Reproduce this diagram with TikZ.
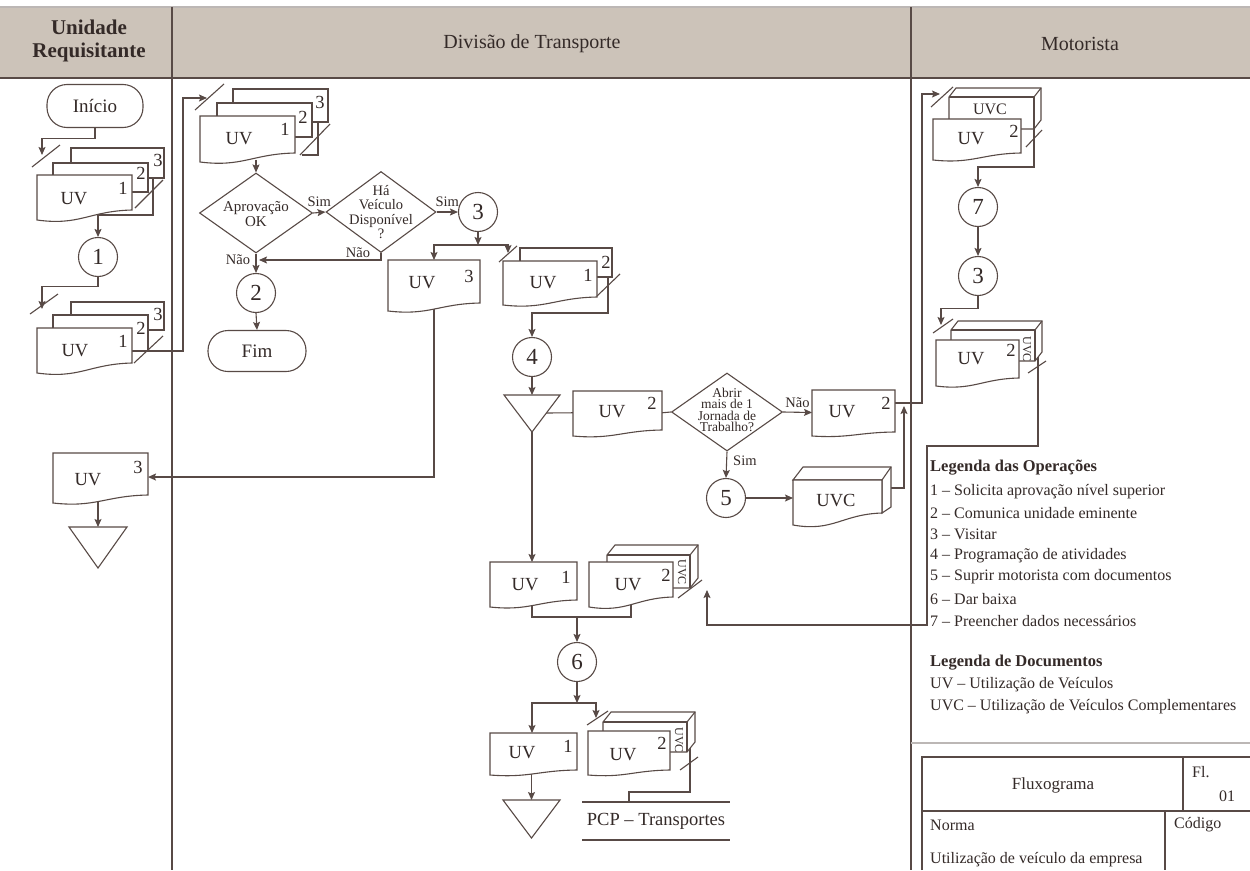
\documentclass[tikz,border=0pt]{standalone}
\usepackage{fontspec}
\setmainfont{Liberation Serif}
\usetikzlibrary{arrows.meta,shapes.geometric,calc}
\pgfdeclarelayer{wires}
\pgfsetlayers{wires,main}

\definecolor{inkline}{RGB}{88,74,70}
\definecolor{inktext}{RGB}{52,42,40}
\definecolor{headfill}{RGB}{204,195,185}

\tikzset{
  ln/.style={draw=inkline, line width=1.1pt},
  arr/.style={ln, -{Stealth[length=8pt,width=7pt,inset=1.5pt]}},
  tx/.style={text=inktext, inner sep=0pt, font=\fontsize{18.5}{20}\selectfont},
  lab/.style={tx, font=\fontsize{14.5}{15}\selectfont},
  vlab/.style={tx, rotate=-90, font=\fontsize{12}{12}\selectfont},
  circ/.style={circle, ln, fill=white, minimum size=39pt, inner sep=0pt, text=inktext, font=\fontsize{23}{24}\selectfont},
  term/.style={rectangle, rounded corners=20pt, ln, fill=white, inner sep=0pt, text=inktext, font=\fontsize{19}{20}\selectfont},
  decision/.style={diamond, ln, fill=white, inner sep=0pt},
  legend/.style={tx, anchor=west, font=\fontsize{16}{18}\selectfont},
  legendhead/.style={legend, font=\bfseries\fontsize{16.5}{18}\selectfont},
  head/.style={tx, font=\fontsize{20}{22}\selectfont, align=center},
}

% document sheet with a wavy lower edge: name, x1, y1, x2, y2 (right bottom), drop
\newcommand\flowdoc[6]{%
  \draw[ln, fill=white] (#2,#3) -- (#4,#3) -- (#4,#5)
    .. controls ({#4-0.45*(#4-#2)},{#5+0.1*#6}) and ({#2+0.45*(#4-#2)},{#5+1.6*#6}) .. (#2,{#5+#6}) -- cycle;
  \node[inner sep=0pt, outer sep=0pt, minimum width={#4-#2}, minimum height={#5+0.76*#6-#3}]
    (#1) at ({(#2+#4)/2},{(#3+#5+0.76*#6)/2}) {};
}
% plain copy lying behind a document: name, x1, y1, x2, y2
\newcommand\flowsheet[5]{%
  \node[rectangle, ln, fill=white, inner sep=0pt, outer sep=0pt, minimum width={#4-#2}, minimum height={#5-#3}]
    (#1) at ({(#2+#4)/2},{(#3+#5)/2}) {};
}
% card file drawn as a box: name, x1, y1, x2, y2, depth x, depth y
\newcommand\flowcard[7]{%
  \draw[ln, fill=white] (#2,#3) -- ({#2+#6},{#3-#7}) -- ({#4+#6},{#3-#7}) -- ({#4+#6},{#5-#7}) -- (#4,#5) -- (#2,#5) -- cycle;
  \draw[ln] (#2,#3) -- (#4,#3) -- (#4,#5);
  \draw[ln] (#4,#3) -- ({#4+#6},{#3-#7});
  \node[inner sep=0pt, outer sep=0pt, minimum width={#4-#2}, minimum height={#5-#3}]
    (#1) at ({(#2+#4)/2},{(#3+#5)/2}) {};
}
% archive triangle: name, x left, x right, y top, y tip
\newcommand\flowtri[5]{%
  \draw[ln, fill=white] (#2,#4) -- (#3,#4) -- ({(#2+#3)/2},#5) -- cycle;
  \coordinate (#1) at ({(#2+#3)/2},#4);
  \coordinate (#1-tip) at ({(#2+#3)/2},#5);
}
% copy mark across a flow line
\newcommand\flowslash[4]{\draw[ln] (#1,#2) -- (#3,#4);}

\begin{document}
\begin{tikzpicture}[x=1pt,y=-1pt]
\useasboundingbox (0,0) rectangle (1250,870);

\begin{pgfonlayer}{wires}
  \fill[white] (0,0) rectangle (1250,870);
  \fill[headfill] (0,7) rectangle (1250,78);
  \draw[ln, draw=inkline!40] (0,7) -- (1250,7);
  \draw[ln] (0,78) -- (1250,78);
  \draw[ln] (172,7) -- (172,870);
  \draw[ln] (911,7) -- (911,870);
\end{pgfonlayer}

% ---------- lane headers
\node[head, font=\bfseries\fontsize{21}{23}\selectfont] (h1) at (89,41) {Unidade\\Requisitante};
\node[head] (h2) at (532,44) {Divisão de Transporte};
\node[head] (h3) at (1080,44) {Motorista};

% ---------- Unidade Requisitante
\node[term, minimum width=96pt, minimum height=43pt] (ini) at (95,106) {Início};

\flowsheet{a3}{71}{148}{164}{178}
\flowsheet{a2}{53}{163}{148}{192}
\flowdoc{a1}{37}{175}{132}{210}{10}
\node[tx] (a3-n) at (158,160) {3};
\node[tx] (a2-n) at (141,173) {2};
\node[tx] (a1-n) at (123,188) {1};
\node[tx] (a1-t) at (74,199) {UV};
\coordinate (aIn) at (42,155);
\coordinate (aOut) at (153,178);

\node[circ] (c1) at (98,257) {1};

\flowsheet{b3}{71}{302}{164}{330}
\flowsheet{b2}{53}{315}{148}{351}
\flowdoc{b1}{37}{328}{132}{363}{10}
\node[tx] (b3-n) at (158,314) {3};
\node[tx] (b2-n) at (141,328) {2};
\node[tx] (b1-n) at (123,341) {1};
\node[tx] (b1-t) at (75,351) {UV};
\coordinate (bIn) at (42,309);
\coordinate (bOut) at (148,351);

\flowdoc{u3L}{53}{453}{148}{495}{8}
\node[tx] (u3L-n) at (138,467) {3};
\node[tx] (u3L-t) at (88,480) {UV};
\flowtri{triL}{69}{127}{527}{568}

% ---------- Divisao de Transporte
\flowsheet{s3}{233}{89}{328}{122}
\flowsheet{s2}{217}{103}{312}{137}
\flowdoc{s1}{200}{116}{295}{153}{9}
\node[tx] (s3-n) at (320,102) {3};
\node[tx] (s2-n) at (303,117) {2};
\node[tx] (s1-n) at (285,129) {1};
\node[tx] (s1-t) at (239,139) {UV};
\coordinate (cIn) at (207,98);
\coordinate (cOut) at (318,122);
\coordinate (cTail) at (302,155);

\node[decision, minimum width=113pt, minimum height=80pt] (dA) at (256,213) {};
\node[tx, align=center, font=\fontsize{15}{15}\selectfont] (dA-t) at (256,214) {Aprovação\\OK};
\node[decision, minimum width=110pt, minimum height=81pt] (dB) at (381,212) {};
\node[tx, align=center, font=\fontsize{14.5}{14.5}\selectfont] (dB-t) at (381,212) {Há\\Veículo\\Disponível\\?};
\node[circ] (c3) at (478,212) {3};
\node[circ] (c2) at (256,293) {2};
\node[term, minimum width=98pt, minimum height=41pt] (fim) at (257,351) {Fim};
\node[lab] (naoA) at (238,260) {Não};
\node[lab] (naoB) at (358,253) {Não};
\coordinate (nJoin) at (259,260);

\coordinate (split3) at (478,245);
\flowdoc{u3M}{388}{260}{480}{303}{8}
\node[tx] (u3M-n) at (469,276) {3};
\node[tx] (u3M-t) at (422,283) {UV};

\flowsheet{f2}{520}{248}{612}{277}
\flowdoc{f1}{503}{261}{597}{297}{8}
\node[tx] (f2-n) at (606,262) {2};
\node[tx] (f1-n) at (588,275) {1};
\node[tx] (f1-t) at (543,283) {UV};
\coordinate (fIn) at (508,253);
\coordinate (fOut) at (608,277);

\node[circ] (c4) at (532,357) {4};
\flowtri{tri1}{504}{560}{395}{432}
\coordinate (tri1r) at (546,413);

\flowdoc{u2a}{573}{391}{662}{430}{6}
\node[tx] (u2a-n) at (652,403) {2};
\node[tx] (u2a-t) at (612,412) {UV};

\node[decision, minimum width=111pt, minimum height=78pt] (dC) at (727,412) {};
\node[tx, align=center, font=\fontsize{13.5}{11.5}\selectfont] (dC-t) at (727,410) {Abrir\\mais de 1\\Jornada de\\Trabalho?};

\flowdoc{u2b}{812}{390}{895}{432}{4}
\node[tx] (u2b-n) at (886,403) {2};
\node[tx] (u2b-t) at (842,412) {UV};
\coordinate (u2bOut) at (895,403);

\node[circ] (c5) at (726,498) {5};

\draw[ln, fill=white] (793,480) -- (803,467) -- (891,467) -- (891,507) -- (882,513) -- (882,480) -- cycle;
\draw[ln] (882,480) -- (891,467);
\flowdoc{uvcA}{793}{480}{882}{513}{12}
\node[tx] (uvcA-t) at (836,501) {UVC};
\coordinate (uvcAr) at (891,488);
\coordinate (j2) at (904,406);

\flowdoc{u1a}{490}{562}{577}{600}{7}
\node[tx] (u1a-n) at (566,577) {1};
\node[tx] (u1a-t) at (525,585) {UV};

\flowcard{cardG}{607}{555}{690}{588}{8}{10}
\flowdoc{u2c}{589}{562}{673}{597}{10}
\node[vlab] (cardG-t) at (682,572) {UVC};
\node[tx] (u2c-n) at (666,575) {2};
\node[tx] (u2c-t) at (628,585) {UV};
\coordinate (gIn) at (707,590);

\coordinate (m6) at (577,617);
\node[circ] (c6) at (577,662) {6};
\coordinate (split6) at (577,703);

\flowdoc{u1b}{490}{733}{577}{770}{5}
\node[tx] (u1b-n) at (568,746) {1};
\node[tx] (u1b-t) at (522,753) {UV};

\flowcard{cardH}{603}{722}{687}{752}{8}{10}
\flowdoc{u2d}{588}{731}{670}{770}{5}
\node[vlab] (cardH-t) at (679,740) {UVC};
\node[tx] (u2d-n) at (662,743) {2};
\node[tx] (u2d-t) at (623,755) {UV};
\coordinate (hIn) at (596,718);
\coordinate (hOut) at (690,748);

\flowtri{tri2}{503}{560}{800}{838}

\draw[ln] (582,802) -- (730,802);
\draw[ln] (582,840) -- (730,840);
\node[tx] (pcp) at (656,821) {PCP – Transportes};
\coordinate (pcpTop) at (629,802);

% ---------- Motorista
\flowcard{cardD}{949}{97}{1034}{129}{7}{9}
\node[tx, font=\fontsize{16}{16}\selectfont] (cardD-t) at (990,109) {UVC};
\flowdoc{u2e}{933}{119}{1021}{153}{7}
\node[tx] (u2e-n) at (1014,131) {2};
\node[tx] (u2e-t) at (971,139) {UV};
\coordinate (dIn) at (940,94);
\coordinate (dOut) at (1034,129);

\node[circ] (c7) at (978,207) {7};
\node[circ] (c3b) at (978,276) {3};

\flowcard{cardE}{951}{330}{1035}{361}{7}{9}
\flowdoc{u2f}{936}{340}{1019}{378}{8}
\node[vlab] (cardE-t) at (1027,349) {UVC};
\node[tx] (u2f-n) at (1011,350) {2};
\node[tx] (u2f-t) at (971,359) {UV};
\coordinate (eIn) at (941,325);
\coordinate (eOut) at (1038,357);

% ---------- legends
\node[legendhead] (lo) at (930,468) {Legenda das Operações};
\node[legend] (lo1) at (930,492) {1 – Solicita aprovação nível superior};
\node[legend] (lo2) at (930,513) {2 – Comunica unidade eminente};
\node[legend] (lo3) at (930,534) {3 – Visitar};
\node[legend] (lo4) at (930,556) {4 – Programação de atividades};
\node[legend] (lo5) at (930,577) {5 – Suprir motorista com documentos};
\node[legend] (lo6) at (930,599) {6 – Dar baixa};
\node[legend] (lo7) at (930,621) {7 – Preencher dados necessários};
\node[legendhead] (ld) at (930,663) {Legenda de Documentos};
\node[legend] (ld1) at (930,685) {UV – Utilização de Veículos};
\node[legend] (ld2) at (930,707) {UVC – Utilização de Veículos Complementares};

% ---------- title block
\draw[ln, draw=inkline!40] (911,743) -- (1250,743);
\draw[ln] (922,870) -- (922,757) -- (1250,757);
\draw[ln] (922,811) -- (1250,811);
\draw[ln] (1183,757) -- (1183,811);
\draw[ln] (1165,811) -- (1165,870);
\node[tx, font=\fontsize{17}{18}\selectfont] (fx) at (1053,785) {Fluxograma};
\node[legend] (fl) at (1192,772) {Fl.};
\node[legend] (fl01) at (1219,796) {01};
\node[legend] (norma) at (930,825) {Norma};
\node[legend] (cod) at (1174,825) {Código};
\node[legend] (uti) at (930,860) {Utilização de veículo da empresa};

% ---------- copy marks
\flowslash{32}{167}{60}{145}
\flowslash{135}{208}{163}{180}
\flowslash{30}{314}{58}{294}
\flowslash{134}{363}{163}{336}
\flowslash{195}{110}{224}{84}
\flowslash{300}{155}{330}{124}
\flowslash{499}{262}{517}{246}
\flowslash{597}{296}{620}{274}
\flowslash{678}{598}{702}{580}
\flowslash{587}{725}{608}{711}
\flowslash{680}{770}{698}{757}
\flowslash{931}{107}{953}{87}
\flowslash{1026}{147}{1042}{130}
\flowslash{933}{333}{953}{319}
\flowslash{1028}{373}{1046}{361}

% ---------- connectors
\begin{pgfonlayer}{wires}
  \draw[arr] (ini.south) -- ++(0,10) -| (aIn);
  \draw[arr] (aOut) -- ++(0,37) -| (c1.north);
  \draw[arr] (c1.south) -- ++(0,9) -| (bIn);
  \draw[arr] (bOut) -- ++(35,0) |- (cIn);
  \draw[ln] (cOut) |- (cTail);
  \draw[arr] (s1.south -| dA.north) -- (dA.north);
  \draw[arr] (dA.east) -- node[lab, above=5pt] (simA) {Sim} (dB.west);
  \draw[arr] (dB.east) -- node[lab, above=5pt] (simB) {Sim} (c3.west);
  \draw[arr] (dB.south) |- (nJoin);
  \draw[arr] (dA.south) -- (c2.north);
  \draw[arr] (c2.south) -- (fim.north);
  \draw[arr] (c3.south) -- (split3);
  \draw[arr] (split3) -| (u3M.north);
  \draw[arr] (split3) -| (fIn);
  \draw[arr] (u3M.center) |- (u3L.east);
  \draw[arr] (u3L.south -| triL) -- (triL);
  \draw[arr] (fOut) -- ++(0,36) -| (c4.north);
  \draw[arr] (c4.south) -- (tri1);
  \draw[ln] (tri1r) -- (u2a.west);
  \draw[ln] (u2a.east) -- (dC.west);
  \draw[arr] (dC.east) -- node[lab, above=4pt] (naoC) {Não} (u2b.west);
  \draw[arr] (dC.south) -- node[lab, pos=0.35, right=6pt] (simC) {Sim} (c5.north);
  \draw[arr] (c5.east) -- (c5.east -| uvcA.west);
  \draw[arr] (uvcAr) -| (j2);
  \draw[arr] (u2bOut) -- (922,403) |- (dIn);
  \draw[arr] (tri1-tip) -- (u1a.north -| tri1-tip);
  \draw[ln] (u1a.south -| tri1-tip) |- (m6) -| (u2c.south);
  \draw[arr] (m6) -- (c6.north);
  \draw[arr] (c6.south) -- (split6);
  \draw[arr] (split6) -| (u1b.north -| tri1-tip);
  \draw[arr] (split6) -| (hIn);
  \draw[ln] (hOut) -- (690,792) -| (pcpTop);
  \draw[arr] (u1b.south -| tri2) -- (tri2);
  \draw[arr] (dOut) -- (1034,167) -| (c7.north);
  \draw[arr] (c7.south) -- (c3b.north);
  \draw[arr] (c3b.south) -- ++(0,12) -| (eIn);
  \draw[arr] (eOut) -- (1038,446) -- (927,446) -- (927,625) -| (gIn);
\end{pgfonlayer}
\end{tikzpicture}
\end{document}
